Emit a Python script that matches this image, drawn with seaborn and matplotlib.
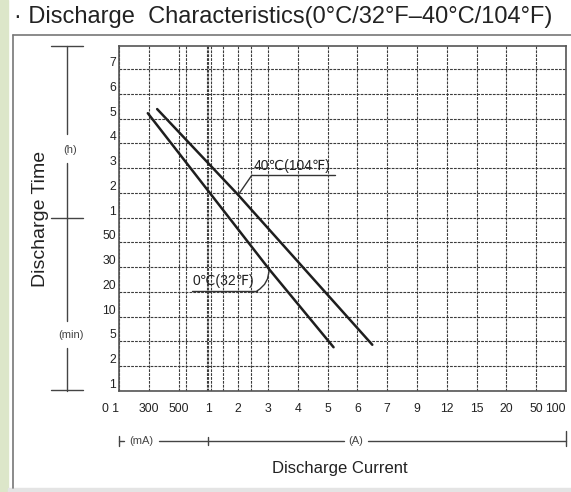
import numpy as np
import matplotlib
matplotlib.use("Agg")
import matplotlib.pyplot as plt
from matplotlib.lines import Line2D
from matplotlib.patches import Rectangle
import matplotlib.transforms as mtransforms
import seaborn as sns

# -----------------------
# Data (current in A, time in minutes)
# -----------------------
current_ticks = [0.0, 0.3, 0.5, 1, 2, 3, 4, 5, 6, 7, 9, 12, 15, 20, 50, 100]
current_labels = ["0 1", "300", "500", "1", "2", "3", "4", "5", "6", "7",
                  "9", "12", "15", "20", "50", "100"]
current_extra_grid = [0.625, 0.975, 1.09, 1.49, 2.43]

time_ticks = [1, 2, 5, 10, 20, 30, 50, 60, 120, 180, 240, 300, 360, 420]
time_labels = ["1", "2", "5", "10", "20", "30", "50",
               "1", "2", "3", "4", "5", "6", "7"]

current_0c = [0.29, 3.03, 5.2]
time_0c = [313, 29.3, 4.3]
current_40c = [0.356, 2.0, 6.5]
time_40c = [323, 115, 4.6]

# evenly spaced chart scales (datasheet style)
x_pos = np.arange(len(current_ticks), dtype=float)
y_vals = np.array(time_ticks + [480], dtype=float)
y_pos = np.arange(len(y_vals), dtype=float)


def x_fwd(v):
    return np.interp(v, current_ticks, x_pos)


def x_inv(p):
    return np.interp(p, x_pos, current_ticks)


def y_fwd(v):
    return np.interp(v, y_vals, y_pos)


def y_inv(p):
    return np.interp(p, y_pos, y_vals)


sns.set_style("white")
plt.rcParams["font.family"] = ["Liberation Sans", "DejaVu Sans"]

W, H = 571, 492
fig = plt.figure(figsize=(W / 100, H / 100), dpi=100)
fig.patch.set_facecolor("white")

# page decorations
fig.patches.append(Rectangle((0, 0), 8 / W, 1, transform=fig.transFigure,
                             color="#dce6c9", zorder=0))
fig.patches.append(Rectangle((8 / W, 0), 1, 4 / H, transform=fig.transFigure,
                             color="#e4e4e4", zorder=0))
fig.lines.append(Line2D([13 / W, 13 / W], [4 / H, 1 - 35 / H],
                        transform=fig.transFigure, color="#777777", lw=1.2))
fig.lines.append(Line2D([13 / W, 1], [1 - 35 / H, 1 - 35 / H],
                        transform=fig.transFigure, color="#777777", lw=1.2))

fig.text(14 / W, 1 - 17 / H,
         "· Discharge  Characteristics(0°C/32°F–40°C/104°F)",
         ha="left", va="center", fontsize=17, color="#222222")

ax = fig.add_axes([119 / W, 1 - 391 / H, (566 - 119) / W, (391 - 46) / H])
ax.set_xscale("function", functions=(x_fwd, x_inv))
ax.set_yscale("function", functions=(y_fwd, y_inv))
ax.set_xlim(0, 100)
ax.set_ylim(1, y_inv(13.93))

sns.lineplot(x=current_0c, y=time_0c, ax=ax, color="#1e1e1e", lw=1.8,
             sort=False, zorder=5)
sns.lineplot(x=current_40c, y=time_40c, ax=ax, color="#1e1e1e", lw=1.8,
             sort=False, zorder=5)

ax.set_xticks(current_ticks, labels=current_labels)
ax.set_xticks(current_extra_grid, minor=True)
ax.set_yticks(time_ticks, labels=time_labels)
ax.grid(which="both", color="#3c3c3c", lw=0.8, ls=(0, (2.5, 1)))
ax.tick_params(axis="both", which="both", length=0, labelsize=8.8,
               labelcolor="#222222")
ax.tick_params(axis="x", pad=9)
ax.tick_params(axis="y", pad=2)
xl = ax.get_xticklabels()
xl[0].set_ha("right")
xl[-1].set_ha("right")
for lab in ax.get_yticklabels():
    lab.set_va("bottom")
for s in ax.spines.values():
    s.set_color("#555555")
    s.set_linewidth(1.2)
ax.set_xlabel("")
ax.set_ylabel("")

# curve labels with leaders
ax.plot([2.46, 5.25], [163, 163], color="#333333", lw=1)
ax.plot([2.46, 2.0], [163, 115], color="#333333", lw=1)
ax.text(2.52, 168, "40℃(104℉)", fontsize=10, color="#222222",
        ha="left", va="bottom")
ax.plot([0.725, 2.63], [20.4, 20.4], color="#333333", lw=1)
ax.annotate("", xy=(3.03, 29.3), xytext=(2.63, 20.4),
            arrowprops=dict(arrowstyle="-", color="#333333", lw=1,
                            shrinkA=0, shrinkB=0,
                            connectionstyle="arc3,rad=0.3"))
ax.text(0.74, 21.5, "0℃(32℉)", fontsize=10, color="#222222",
        ha="left", va="bottom")

# left bracket: (h) / (min)
tl = mtransforms.blended_transform_factory(ax.transAxes, ax.transData)
bx = (67 - 119) / 447
hw = 16 / 447
top_t = y_inv(13.93)
kw = dict(transform=tl, color="#444444", lw=1, clip_on=False)
ax.add_line(Line2D([bx, bx], [top_t, 262], **kw))
ax.add_line(Line2D([bx, bx], [192, 60], **kw))
ax.add_line(Line2D([bx, bx], [60, 9.2], **kw))
ax.add_line(Line2D([bx, bx], [4.2, 1], **kw))
for t in (top_t, 60, 1.05):
    ax.add_line(Line2D([bx - hw, bx + hw], [t, t], **kw))
ax.text(bx + 0.008, 224, "(h)", transform=tl, fontsize=8, color="#444444",
        ha="center", va="center")
ax.text(bx + 0.01, 6.3, "(min)", transform=tl, fontsize=8, color="#444444",
        ha="center", va="center")
ax.text(-0.175, 0.5, "Discharge Time", transform=ax.transAxes, rotation=90,
        fontsize=14, color="#222222", ha="center", va="center")

# bottom bracket: (mA) / (A)
tb = mtransforms.blended_transform_factory(ax.transData, ax.transAxes)
by = -(441 - 391) / 345
kb = dict(transform=tb, color="#444444", lw=1, clip_on=False)
ax.add_line(Line2D([0, x_inv(0.17)], [by, by], **kb))
ax.add_line(Line2D([x_inv(1.35), x_inv(7.55)], [by, by], **kb))
ax.add_line(Line2D([x_inv(8.35), 100], [by, by], **kb))
ax.add_line(Line2D([0, 0], [by - 0.015, by + 0.015], **kb))
ax.add_line(Line2D([1, 1], [by - 0.012, by + 0.012], **kb))
ax.add_line(Line2D([100, 100], [by - 0.015, by + 0.03], **kb))
ax.text(x_inv(0.76), by, "(mA)", transform=tb, fontsize=8, color="#444444",
        ha="center", va="center")
ax.text(x_inv(7.95), by, "(A)", transform=tb, fontsize=8, color="#444444",
        ha="center", va="center")
ax.text(0.495, -(468 - 391) / 345, "Discharge Current", transform=ax.transAxes,
        fontsize=12, color="#222222", ha="center", va="center")

fig.savefig("out.png", dpi=100)
